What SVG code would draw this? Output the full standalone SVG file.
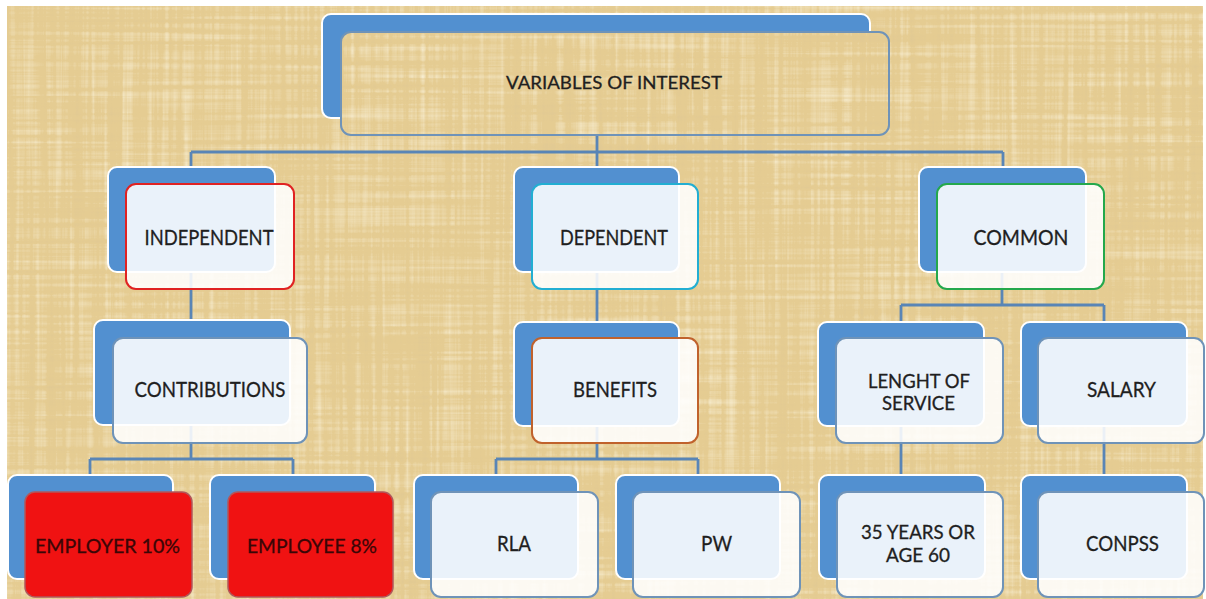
<svg xmlns="http://www.w3.org/2000/svg" xmlns:xlink="http://www.w3.org/1999/xlink" width="1206" height="599" viewBox="0 0 1206 599">
<defs>
  <filter id="fibers" x="0" y="0" width="1" height="1">
    <feTurbulence type="fractalNoise" baseFrequency="0.004 0.2" numOctaves="3" seed="4" result="h"/>
    <feTurbulence type="fractalNoise" baseFrequency="0.2 0.004" numOctaves="3" seed="11" result="v"/>
    <feComposite in="h" in2="v" operator="arithmetic" k2="0.5" k3="0.5" result="n"/>
    <feColorMatrix in="n" type="matrix" values="0 0 0 0 0.98  0 0 0 0 0.93  0 0 0 0 0.77  1.8 0 0 0 -0.85" result="light"/>
    <feColorMatrix in="n" type="matrix" values="0 0 0 0 0.7  0 0 0 0 0.55  0 0 0 0 0.3  -1.6 0 0 0 0.64" result="dark"/>
    <feMerge><feMergeNode in="dark"/><feMergeNode in="light"/></feMerge>
  </filter>
  <clipPath id="topClip"><rect x="341" y="32" width="548" height="103" rx="10"/></clipPath>
</defs>
<style>
  .conn{fill:none;stroke:#5985b6;stroke-width:2.8}
  .back{fill:#5290d0;stroke:#ffffff;stroke-width:2}
  .front{fill:#ffffff;fill-opacity:0.88;stroke:#6f93b8;stroke-width:2}
  .red{fill:#f01212;fill-opacity:1;stroke:#b0585c;stroke-width:1.5}
  .lbl{font-family:Lato,"Liberation Sans",sans-serif;font-size:21px;fill:#1f1f1f;stroke:#1f1f1f;stroke-width:0.3;text-anchor:middle}
  .sm{font-size:19px}
  .rt{fill:#3a0606;stroke:#3a0606}
</style>
<rect width="1206" height="599" fill="#ffffff"/>
<g id="paper">
  <rect x="7" y="6" width="1196" height="593" fill="#e5cc92"/>
  <rect x="7" y="6" width="1196" height="593" fill="#000" filter="url(#fibers)"/>
</g>

<g id="connectors">
  <path class="conn" d="M597,130 V152 M191,152 H1003 M191,152 V180 M597,152 V180 M1003,152 V180"/>
  <path class="conn" d="M191,260 V332 M597,260 V332"/>
  <path class="conn" d="M1002,260 V305 M901,305 H1104 M901,305 V334 M1104,305 V334"/>
  <path class="conn" d="M191,420 V459 M90,459 H293 M90,459 V487 M293,459 V487"/>
  <path class="conn" d="M597,420 V459 M496,459 H698 M496,459 V487 M698,459 V487"/>
  <path class="conn" d="M901,420 V487 M1104,420 V487"/>
</g>

<g id="n-variables">
  <rect class="back" x="322" y="14" width="548" height="104" rx="9"/>
  <use xlink:href="#paper" clip-path="url(#topClip)"/>
  <rect x="341" y="32" width="548" height="103" rx="10" fill="none" stroke="#6f93b8" stroke-width="2"/>
  <text class="lbl" x="614" y="89" style="font-size:17.5px" textLength="216" lengthAdjust="spacingAndGlyphs">VARIABLES OF INTEREST</text>
</g>

<g id="n-independent">
  <rect class="back" x="108" y="167" width="167" height="105" rx="9"/>
  <rect class="front" x="126" y="184" width="168" height="105" rx="10" style="stroke:#e02222"/>
  <text class="lbl" x="209" y="245" textLength="129" lengthAdjust="spacingAndGlyphs">INDEPENDENT</text>
</g>
<g id="n-dependent">
  <rect class="back" x="514" y="167" width="165" height="105" rx="9"/>
  <rect class="front" x="532" y="184" width="166" height="105" rx="10" style="stroke:#22aed2"/>
  <text class="lbl" x="614" y="245" textLength="108" lengthAdjust="spacingAndGlyphs">DEPENDENT</text>
</g>
<g id="n-common">
  <rect class="back" x="919" y="167" width="167" height="105" rx="9"/>
  <rect class="front" x="937" y="184" width="167" height="105" rx="10" style="stroke:#24a84c"/>
  <text class="lbl" x="1021" y="245" textLength="95" lengthAdjust="spacingAndGlyphs">COMMON</text>
</g>

<g id="n-contributions">
  <rect class="back" x="94" y="320" width="196" height="105" rx="9"/>
  <rect class="front" x="113" y="338" width="194" height="105" rx="10"/>
  <text class="lbl" x="210" y="397" textLength="151" lengthAdjust="spacingAndGlyphs">CONTRIBUTIONS</text>
</g>
<g id="n-benefits">
  <rect class="back" x="514" y="322" width="165" height="104" rx="9"/>
  <rect class="front" x="532" y="338" width="166" height="105" rx="10" style="stroke:#c0622c"/>
  <text class="lbl" x="615" y="397" textLength="84" lengthAdjust="spacingAndGlyphs">BENEFITS</text>
</g>
<g id="n-length">
  <rect class="back" x="818" y="322" width="166" height="104" rx="9"/>
  <rect class="front" x="836" y="338" width="167" height="105" rx="10"/>
  <text class="lbl sm" x="919" y="388" textLength="102" lengthAdjust="spacingAndGlyphs">LENGHT OF</text>
  <text class="lbl sm" x="918.5" y="410" textLength="73" lengthAdjust="spacingAndGlyphs">SERVICE</text>
</g>
<g id="n-salary">
  <rect class="back" x="1021" y="322" width="166" height="104" rx="9"/>
  <rect class="front" x="1038" y="338" width="166" height="105" rx="10"/>
  <text class="lbl" x="1121.5" y="397" textLength="69" lengthAdjust="spacingAndGlyphs">SALARY</text>
</g>

<g id="n-employer">
  <rect class="back" x="8" y="475" width="165" height="104" rx="9"/>
  <rect class="front red" x="25" y="492" width="167" height="105" rx="10"/>
  <text class="lbl sm rt" x="107.5" y="553" textLength="145" lengthAdjust="spacingAndGlyphs">EMPLOYER 10%</text>
</g>
<g id="n-employee">
  <rect class="back" x="210" y="475" width="165" height="104" rx="9"/>
  <rect class="front red" x="228" y="492" width="165" height="105" rx="10"/>
  <text class="lbl sm rt" x="312" y="553" textLength="130" lengthAdjust="spacingAndGlyphs">EMPLOYEE 8%</text>
</g>
<g id="n-rla">
  <rect class="back" x="414" y="475" width="164" height="104" rx="9"/>
  <rect class="front" x="431" y="492" width="167" height="105" rx="10"/>
  <text class="lbl" x="514" y="551" textLength="34" lengthAdjust="spacingAndGlyphs">RLA</text>
</g>
<g id="n-pw">
  <rect class="back" x="616" y="475" width="164" height="104" rx="9"/>
  <rect class="front" x="633" y="492" width="167" height="105" rx="10"/>
  <text class="lbl" x="716.5" y="551" textLength="31" lengthAdjust="spacingAndGlyphs">PW</text>
</g>
<g id="n-35years">
  <rect class="back" x="819" y="475" width="166" height="104" rx="9"/>
  <rect class="front" x="837" y="492" width="166" height="105" rx="10"/>
  <text class="lbl sm" x="918" y="539" textLength="114" lengthAdjust="spacingAndGlyphs">35 YEARS OR</text>
  <text class="lbl sm" x="918" y="562" textLength="64" lengthAdjust="spacingAndGlyphs">AGE 60</text>
</g>
<g id="n-conpss">
  <rect class="back" x="1021" y="475" width="166" height="104" rx="9"/>
  <rect class="front" x="1038" y="492" width="166" height="105" rx="10"/>
  <text class="lbl" x="1122.5" y="551" textLength="73" lengthAdjust="spacingAndGlyphs">CONPSS</text>
</g>
</svg>
